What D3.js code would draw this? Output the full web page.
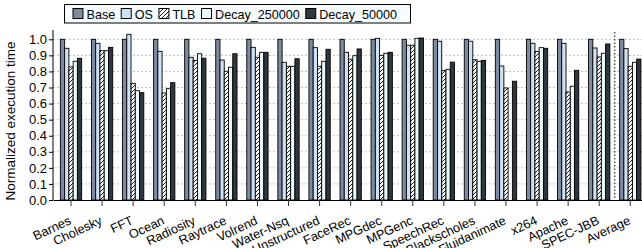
<!DOCTYPE html>
<html>
<head>
<meta charset="utf-8">
<script src="https://cdn.jsdelivr.net/npm/d3@7"></script>
<style>
  body { margin: 0; background: #fff; }
  svg { display: block; font-family: "Liberation Sans", Arial, sans-serif; }
</style>
</head>
<body>
<div id="chart"></div>
<script>
// categories and series
var categories = ["Barnes", "Cholesky", "FFT", "Ocean", "Radiosity", "Raytrace", "Volrend", "Water-Nsq",
    "Unstructured", "FaceRec", "MPGdec", "MPGenc", "SpeechRec", "Blackscholes", "Fluidanimate",
    "x264", "Apache", "SPEC-JBB", "Average"];
var seriesNames = ["Base", "OS", "TLB", "Decay_250000", "Decay_50000"];

var baseVals  = [1, 1, 1, 1, 1, 1, 1, 1, 1, 1, 1, 1, 1, 1, 1, 1, 1, 1, 1];
var osVals    = [0.944, 0.975, 1.031, 0.925, 0.888, 0.871, 0.950, 0.857, 0.948, 0.919, 1.006, 0.963, 0.988, 0.988, 0.834, 0.975, 0.975, 0.946, 0.942];
var tlbVals   = [0.828, 0.929, 0.726, 0.666, 0.869, 0.801, 0.888, 0.832, 0.832, 0.876, 0.900, 0.963, 0.805, 0.873, 0.697, 0.925, 0.672, 0.890, 0.832];
var d250Vals  = [0.863, 0.929, 0.680, 0.693, 0.910, 0.826, 0.919, 0.832, 0.863, 0.898, 0.913, 1.006, 0.813, 0.863, null, 0.948, 0.708, 0.913, 0.857];
var d50Vals   = [0.882, 0.950, 0.668, 0.730, 0.882, 0.910, 0.919, 0.879, 0.938, 0.940, 0.919, 1.008, 0.858, 0.869, 0.739, 0.944, 0.807, 0.971, 0.877];
var yTicks = [0, 0.1, 0.2, 0.3, 0.4, 0.5, 0.6, 0.7, 0.8, 0.9, 1.0];

var allVals = [baseVals, osVals, tlbVals, d250Vals, d50Vals];

function main() {
    var width = 642, height = 248;

    var svg = d3.select("#chart").append("svg")
        .attr("width", width)
        .attr("height", height);

    // hatch pattern for TLB
    var defs = svg.append("defs");
    var pat = defs.append("pattern")
        .attr("id", "hatch")
        .attr("patternUnits", "userSpaceOnUse")
        .attr("width", 4).attr("height", 4);
    pat.append("rect").attr("width", 4).attr("height", 4).attr("fill", "#fff");
    pat.append("path")
        .attr("d", "M-1,1 l2,-2 M0,4 l4,-4 M3,5 l2,-2")
        .attr("stroke", "#000").attr("stroke-width", 0.9);

    var fills = {
        "Base": "#7f8aa0",
        "OS": "#cfe2f5",
        "TLB": "url(#hatch)",
        "Decay_250000": "#eafafa",
        "Decay_50000": "#30363e"
    };

    // scales
    var x = d3.scaleBand()
        .domain(categories)
        .range([53, 648.3])
        .paddingInner(0)
        .paddingOuter(0.08);

    var xs = d3.scaleBand()
        .domain(seriesNames)
        .range([-10.65, 10.65]);

    var y = d3.scaleLinear()
        .domain([0, 1])
        .range([200, 39.3]);

    // grid lines
    svg.append("g")
        .selectAll("line")
        .data(yTicks.slice(1))
        .join("line")
        .attr("x1", 53).attr("x2", width)
        .attr("y1", d => y(d)).attr("y2", d => y(d))
        .attr("stroke", "#b4c0d4")
        .attr("stroke-width", 1)
        .attr("stroke-dasharray", "2,2");

    // bars
    var rows = [];
    categories.forEach(function (c, i) {
        seriesNames.forEach(function (s, j) {
            if (allVals[j][i] != null) rows.push({cat: c, series: s, value: allVals[j][i]});
        });
    });

    svg.append("g")
        .selectAll("rect")
        .data(rows)
        .join("rect")
        .attr("x", d => x(d.cat) + x.bandwidth() / 2 + xs(d.series))
        .attr("y", d => y(d.value))
        .attr("width", xs.bandwidth())
        .attr("height", d => y(0) - y(d.value))
        .attr("fill", d => fills[d.series])
        .attr("stroke", "#000")
        .attr("stroke-width", 0.9);

    // separator before Average
    var sepX = x("Average");
    svg.append("line")
        .attr("x1", sepX).attr("x2", sepX)
        .attr("y1", 32).attr("y2", 200)
        .attr("stroke", "#333")
        .attr("stroke-width", 1.2)
        .attr("stroke-dasharray", "1.5,2");

    // y axis
    var yAxis = svg.append("g")
        .attr("transform", "translate(53,0)")
        .call(d3.axisLeft(y).tickValues(yTicks).tickFormat(d3.format(".1f")).tickSize(4).tickPadding(2));
    yAxis.select(".domain").attr("stroke", "#000").attr("d", "M0,30V200");
    yAxis.selectAll(".tick line").attr("stroke", "#000");
    yAxis.selectAll("text").attr("font-size", "13px").attr("fill", "#000")
        .attr("font-family", "Liberation Sans, Arial, sans-serif");

    // x axis
    var xAxis = svg.append("g")
        .attr("transform", "translate(0,200)")
        .call(d3.axisBottom(x).tickSize(6).tickSizeOuter(0));
    xAxis.select(".domain").attr("stroke", "#000").attr("stroke-width", 1.2);
    xAxis.selectAll(".tick line").attr("stroke", "#333");
    xAxis.selectAll("text")
        .attr("font-size", "12.7px")
        .attr("fill", "#000")
        .attr("font-family", "Liberation Sans, Arial, sans-serif")
        .attr("text-anchor", "end")
        .attr("x", 0).attr("y", 0).attr("dy", 0)
        .attr("transform", "translate(1,23.5) rotate(-25)");

    // y axis label
    svg.append("text")
        .attr("transform", "translate(15,121) rotate(-90)")
        .attr("text-anchor", "middle")
        .attr("font-size", "13.5px")
        .text("Normalized execution time");

    // legend
    var legend = svg.append("g");
    var box = legend.append("rect")
        .attr("x", 64.5).attr("y", 4.5)
        .attr("height", 18.5)
        .attr("fill", "#f6fcfd")
        .attr("stroke", "#000")
        .attr("stroke-width", 1);
    var lx = 72.5;
    seriesNames.forEach(function (s) {
        legend.append("rect")
            .attr("x", lx + 0.5).attr("y", 8.5)
            .attr("width", 10).attr("height", 10)
            .attr("fill", fills[s])
            .attr("stroke", "#000");
        var t = legend.append("text")
            .attr("x", lx + 14)
            .attr("y", 18.5)
            .attr("font-size", "12.6px")
            .text(s);
        lx += 14 + t.node().getComputedTextLength() + 5.5;
    });
    box.attr("width", lx - 64.5 + 8);
}

main();
</script>
</body>
</html>
